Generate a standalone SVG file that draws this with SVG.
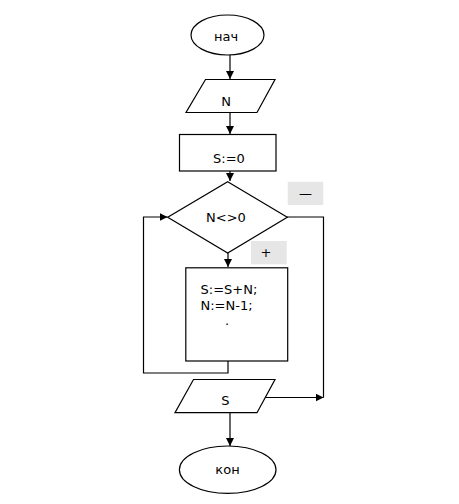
<svg xmlns="http://www.w3.org/2000/svg" width="459" height="504" viewBox="0 0 459 504">
<defs>
<marker id="ah" viewBox="0 0 10 10" refX="10" refY="5" markerWidth="8" markerHeight="8" markerUnits="userSpaceOnUse" orient="auto">
<path d="M0,0 L10,5 L0,10 Z" fill="#000"/>
</marker>
<style>
.s{fill:#fff;stroke:#000;stroke-width:1.2}
.t{font-family:"DejaVu Sans",sans-serif;font-size:13px;fill:#000}
.c{fill:none;stroke:#000;stroke-width:1.2}
.g{fill:#e6e6e6;stroke:none}
</style>
</defs>
<rect width="459" height="504" fill="#fff"/>
<g id="connectors">
<path class="c" d="M230,55 V79" marker-end="url(#ah)"/>
<path class="c" d="M230,112 V134" marker-end="url(#ah)"/>
<path class="c" d="M230,171 V181" marker-end="url(#ah)"/>
<path class="c" d="M228,253 V267" marker-end="url(#ah)"/>
<path class="c" d="M228,361 V373 H143.5 V217 H167.5" marker-end="url(#ah)"/>
<path class="c" d="M287,217 H323.5 V397.5"/>
<path class="c" d="M265,397.5 H323.5" marker-end="url(#ah)"/>
<path class="c" d="M230,413 V446" marker-end="url(#ah)"/>
</g>
<g id="start">
<ellipse class="s" cx="227.5" cy="35" rx="36.5" ry="20"/>
<text class="t" x="226" y="41" text-anchor="middle">нач</text>
</g>
<g id="inputN">
<polygon class="s" points="205.5,79.5 275,79.5 257,112.5 186,112.5"/>
<text class="t" x="226" y="106" text-anchor="middle">N</text>
</g>
<g id="initS">
<rect class="s" x="179.5" y="134.5" width="96.5" height="36.5"/>
<text class="t" x="229" y="163" text-anchor="middle">S:=0</text>
</g>
<g id="cond">
<polygon class="s" points="227.7,181.7 287.3,217.3 227.7,253 167.7,217.3"/>
<text class="t" x="226" y="222" text-anchor="middle">N&lt;&gt;0</text>
</g>
<g id="labelNo">
<rect class="g" x="287.7" y="181.7" width="35.6" height="23.3"/>
<text class="t" x="305.5" y="198" text-anchor="middle">—</text>
</g>
<g id="labelYes">
<rect class="g" x="251" y="241" width="35.7" height="23.3"/>
<text class="t" x="266" y="257" text-anchor="middle">+</text>
</g>
<g id="body">
<rect class="s" x="185.8" y="267.8" width="101.9" height="93.2"/>
<text class="t" x="200.5" y="294">S:=S+N;</text>
<text class="t" x="200.5" y="310">N:=N-1;</text>
<text class="t" x="227" y="325" text-anchor="middle">.</text>
</g>
<g id="outputS">
<polygon class="s" points="193.5,379.5 275,379.5 257,412.7 175,412.7"/>
<text class="t" x="225.5" y="405" text-anchor="middle">S</text>
</g>
<g id="end">
<ellipse class="s" cx="227.7" cy="469.7" rx="48.3" ry="23.7"/>
<text class="t" x="227.5" y="474" text-anchor="middle">кон</text>
</g>
</svg>
